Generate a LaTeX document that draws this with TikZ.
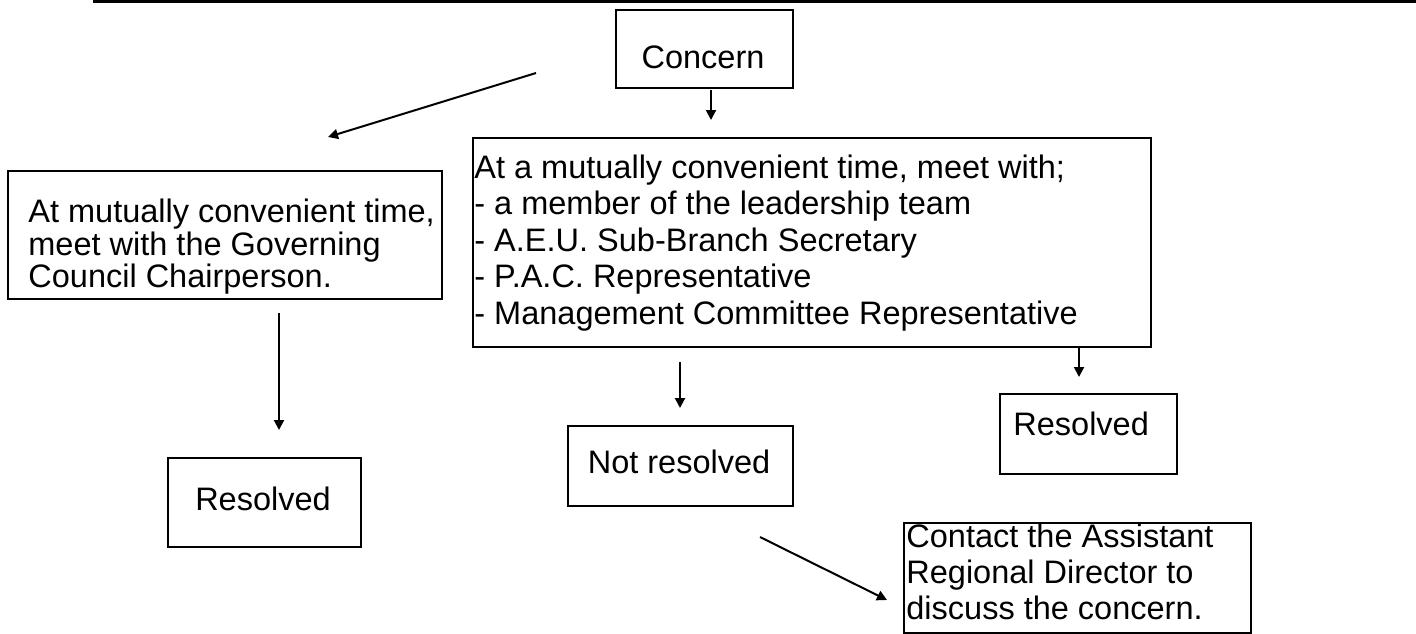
\documentclass[tikz,border=0pt]{standalone}
\usepackage{fontspec}
\setmainfont{Liberation Sans}
\usetikzlibrary{arrows.meta}
\begin{document}
\begin{tikzpicture}[x=0.5pt,y=-0.5pt,
  box/.style={draw=black, line width=0.9pt, inner sep=0pt, anchor=north west},
  txt/.style={inner sep=0pt, anchor=base west, font=\fontsize{16.25}{18.25}\selectfont},
  ctxt/.style={txt, anchor=base},
  arr/.style={line width=1pt, -{Triangle[length=5pt,width=5pt]}}]
\useasboundingbox (0,0) rectangle (1416,633);
% top rule
\draw[line width=1.2pt] (93,1.5) -- (1416,1.5);
% Concern
\node[box, minimum width=88.5pt, minimum height=39pt] (concern) at (615,9) {};
\node[ctxt] (concernT) at (703,68) {Concern};
% Big box
\node[box, minimum width=339pt, minimum height=104.5pt] (big) at (472,137) {};
\node[txt] (b1) at (474,178) {At a mutually convenient time, meet with;};
\node[txt] (b2) at (474,214.5) {- a member of the leadership team};
\node[txt] (b3) at (474,251) {- A.E.U. Sub-Branch Secretary};
\node[txt] (b4) at (474,287.5) {- P.A.C. Representative};
\node[txt] (b5) at (474,324) {- Management Committee Representative};
% Left box
\node[box, minimum width=217pt, minimum height=64pt] (left) at (7,170) {};
\node[txt] (l1) at (28,222) {At mutually convenient time,};
\node[txt] (l2) at (28,255) {meet with the Governing};
\node[txt] (l3) at (28,287) {Council Chairperson.};
% Left resolved
\node[box, minimum width=96.5pt, minimum height=44.5pt] (lres) at (167,457) {};
\node[ctxt] (lresT) at (263,510) {Resolved};
% Not resolved
\node[box, minimum width=112.5pt, minimum height=40pt] (notres) at (567,425) {};
\node[ctxt] (notresT) at (679,473) {Not resolved};
% Right resolved
\node[box, minimum width=88.5pt, minimum height=40pt] (rres) at (999,393) {};
\node[txt] (rresT) at (1013,435) {Resolved};
% Contact box
\node[box, minimum width=173.5pt, minimum height=55pt] (contact) at (903,522) {};
\node[txt] (c1) at (906,547) {Contact the Assistant};
\node[txt] (c2) at (906,583) {Regional Director to};
\node[txt] (c3) at (906,619) {discuss the concern.};
% arrow end points
\coordinate (a1s) at (711,90);   \coordinate (a1e) at (711,120);
\coordinate (a2s) at (536,73);   \coordinate (a2e) at (328,137);
\coordinate (a3s) at (279,313);  \coordinate (a3e) at (279,430);
\coordinate (a4s) at (680,362);  \coordinate (a4e) at (680,408);
\coordinate (a5s) at (1079,347); \coordinate (a5e) at (1079,377);
\coordinate (a6s) at (760,537);  \coordinate (a6e) at (887,600);
\draw[arr] (a1s) -- (a1e);
\draw[arr] (a2s) -- (a2e);
\draw[arr] (a3s) -- (a3e);
\draw[arr] (a4s) -- (a4e);
\draw[arr] (a5s) -- (a5e);
\draw[arr] (a6s) -- (a6e);
\end{tikzpicture}
\end{document}
